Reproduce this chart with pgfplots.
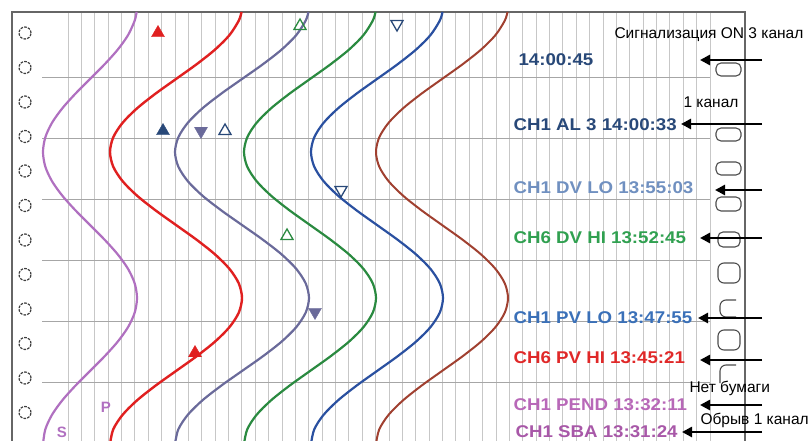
\documentclass[border=0pt]{standalone}
\usepackage{pgfplots}
\pgfplotsset{compat=1.18}
\usepackage{pgfplotstable}
\usetikzlibrary{arrows.meta}
\usepackage{fontspec}
\setmainfont{Liberation Sans}
\newfontfamily\tagfont[FakeStretch=1.1]{Liberation Sans}

\definecolor{penP}{HTML}{B070C0}
\definecolor{penR}{HTML}{E02020}
\definecolor{penS}{HTML}{6A6A9A}
\definecolor{penG}{HTML}{2A8A40}
\definecolor{penB}{HTML}{2A50A0}
\definecolor{penN}{HTML}{A04030}
\definecolor{navy}{HTML}{284878}
\definecolor{steel}{HTML}{7090C0}
\definecolor{grn}{HTML}{30A050}
\definecolor{blu}{HTML}{3A70B8}
\definecolor{rd}{HTML}{E02828}
\definecolor{pink}{HTML}{B868B8}
\definecolor{purp}{HTML}{A858A8}

% pen traces: x position of each pen at chart row y (pixels)
\pgfplotstableread{
y     p     r     s     g     b     n
12.0  136.6 241.5 308.4 375.5 442.5 507.5
20.6  134.7 238.8 305.7 372.8 439.8 504.8
35.2  128.0 229.4 296.2 363.4 430.4 495.4
49.8  117.6 214.8 281.4 348.8 415.8 480.8
64.4  104.5 196.4 262.7 330.4 397.4 462.4
79.0  90.0  176.0 242.0 310.0 377.0 442.0
93.6  75.5  155.6 221.3 289.6 356.6 421.6
108.2 62.4  137.2 202.6 271.2 338.2 403.2
122.8 52.0  122.6 187.8 256.6 323.6 388.6
137.4 45.3  113.2 178.3 247.2 314.2 379.2
152.0 43.0  110.0 175.0 244.0 311.0 376.0
166.6 45.3  113.2 178.3 247.2 314.2 379.2
181.2 52.0  122.6 187.8 256.6 323.6 388.6
195.8 62.4  137.2 202.6 271.2 338.2 403.2
210.4 75.5  155.6 221.3 289.6 356.6 421.6
225.0 90.0  176.0 242.0 310.0 377.0 442.0
239.6 104.5 196.4 262.7 330.4 397.4 462.4
254.2 117.6 214.8 281.4 348.8 415.8 480.8
268.8 128.0 229.4 296.2 363.4 430.4 495.4
283.4 134.7 238.8 305.7 372.8 439.8 504.8
298.0 137.0 242.0 309.0 376.0 443.0 508.0
312.6 134.7 238.8 305.7 372.8 439.8 504.8
327.2 128.0 229.4 296.2 363.4 430.4 495.4
341.8 117.6 214.8 281.4 348.8 415.8 480.8
356.4 104.5 196.4 262.7 330.4 397.4 462.4
371.0 90.0  176.0 242.0 310.0 377.0 442.0
385.6 75.5  155.6 221.3 289.6 356.6 421.6
400.2 62.4  137.2 202.6 271.2 338.2 403.2
414.8 52.0  122.6 187.8 256.6 323.6 388.6
429.4 45.3  113.2 178.3 247.2 314.2 379.2
444.0 43.0  110.0 175.0 244.0 311.0 376.0
}\pens

\begin{document}
\begin{tikzpicture}
\begin{axis}[
  x=1pt, y=1pt, y dir=reverse,
  xmin=0, xmax=811, ymin=0, ymax=441,
  hide axis,
  every node/.style={inner sep=0pt},
]
\path (axis cs:0,0) rectangle (axis cs:811,441);
% chart paper grid
\pgfplotsinvokeforeach{0,...,48}{
  \draw[black!22, line width=0.8pt] (axis cs:{68+13.375*#1},12) -- (axis cs:{68+13.375*#1},441);
}
\pgfplotsinvokeforeach{77,138,199,260,321,382}{
  \draw[black!35, line width=0.9pt] (axis cs:42,#1) -- (axis cs:710,#1);
}
% paper border
\draw[black!60, line width=1.4pt] (axis cs:12,441) -- (axis cs:12,12) -- (axis cs:745,12) -- (axis cs:745,441);

% sprocket holes
\addplot[only marks, mark=o, mark size=6pt,
  mark options={draw=black!75, line width=1.2pt, dash pattern=on 2.6pt off 1.2pt}]
  coordinates {(25,33) (25,67.5) (25,102) (25,136.5) (25,171) (25,205.5)
               (25,240) (25,274.5) (25,309) (25,343.5) (25,378) (25,412.5)};
\begin{scope}[black!70, line width=1.1pt]
\draw[rounded corners=5pt] (axis cs:716,63) rectangle (axis cs:741,76);
\draw[rounded corners=5pt] (axis cs:716,128) rectangle (axis cs:741,141);
\draw[rounded corners=5pt] (axis cs:716,162) rectangle (axis cs:741,175);
\draw[rounded corners=5pt] (axis cs:716,197) rectangle (axis cs:741,211);
\draw[rounded corners=5pt] (axis cs:718,232) rectangle (axis cs:740,247);
\draw[rounded corners=6pt] (axis cs:718,263) rectangle (axis cs:740,283);
\draw[rounded corners=6pt] (axis cs:736,300) -- (axis cs:720,300) -- (axis cs:720,317) -- (axis cs:736,317);
\draw[rounded corners=6pt] (axis cs:718,330) rectangle (axis cs:740,350);
\draw[rounded corners=6pt] (axis cs:736,365) -- (axis cs:720,365) -- (axis cs:720,383);
\end{scope}

% pen traces
\addplot[penP, line width=2.2pt, smooth] table[x=p, y=y] {\pens};
\addplot[penR, line width=2.4pt, smooth] table[x=r, y=y] {\pens};
\addplot[penS, line width=2.2pt, smooth] table[x=s, y=y] {\pens};
\addplot[penG, line width=2.2pt, smooth] table[x=g, y=y] {\pens};
\addplot[penB, line width=2.2pt, smooth] table[x=b, y=y] {\pens};
\addplot[penN, line width=2pt, smooth] table[x=n, y=y] {\pens};

% alarm marks
\addplot[only marks, mark=triangle*, mark size=7.5pt, mark options={fill=penR, draw=penR}]
  coordinates {(158,33) (195,353)};
\addplot[only marks, mark=triangle*, mark size=7.5pt, mark options={fill=navy, draw=navy}]
  coordinates {(163,131)};
\addplot[only marks, mark=triangle*, mark size=7.5pt, mark options={fill=penS, draw=penS, rotate=180}]
  coordinates {(201,131) (315,312)};
\addplot[only marks, mark=triangle, mark size=7pt, mark options={draw=navy, line width=1.3pt}]
  coordinates {(225,131)};
\addplot[only marks, mark=triangle, mark size=7pt, mark options={draw=penG, line width=1.3pt}]
  coordinates {(300,26) (287,236)};
\addplot[only marks, mark=triangle, mark size=7pt, mark options={draw=navy, line width=1.3pt, rotate=180}]
  coordinates {(397,24) (341,190)};

% pen letters
\node[text=penP, font=\bfseries\fontsize{15}{15}\selectfont] at (axis cs:106,407) {P};
\node[text=penP, font=\bfseries\fontsize{15}{15}\selectfont] at (axis cs:62,432) {S};

% printed messages
\begin{scope}[every node/.append style={anchor=west, font=\tagfont\bfseries\fontsize{17}{17}\selectfont}]
\node[text=navy] at (axis cs:515,60) {14:00:45};
\node[text=navy] at (axis cs:510,125) {CH1 AL 3 14:00:33};
\node[text=steel] at (axis cs:510,188) {CH1 DV LO 13:55:03};
\node[text=grn] at (axis cs:510,238) {CH6 DV HI 13:52:45};
\node[text=blu] at (axis cs:510,318) {CH1 PV LO 13:47:55};
\node[text=rd] at (axis cs:510,358) {CH6 PV HI 13:45:21};
\node[text=pink] at (axis cs:510,405) {CH1 PEND 13:32:11};
\node[text=purp] at (axis cs:512,432) {CH1 SBA 13:31:24};
\end{scope}

% callouts
\begin{scope}[every node/.append style={anchor=west, text=black, font=\fontsize{15.5}{15.5}\selectfont}]
\node at (axis cs:611,35) {Сигнализация ON 3 канал};
\node at (axis cs:680,102) {1 канал};
\node at (axis cs:686,388) {Нет бумаги};
\node at (axis cs:697,420) {Обрыв 1 канал};
\end{scope}
\begin{scope}[black, line width=2.8pt, -{Triangle[length=10pt, width=10pt]}]
\draw (axis cs:762,60) -- (axis cs:700,60);
\draw (axis cs:762,124) -- (axis cs:681,124);
\draw (axis cs:762,190) -- (axis cs:715,190);
\draw (axis cs:762,238) -- (axis cs:700,238);
\draw (axis cs:762,318) -- (axis cs:698,318);
\draw (axis cs:762,360) -- (axis cs:700,360);
\draw (axis cs:762,405) -- (axis cs:700,405);
\draw (axis cs:762,432) -- (axis cs:682,432);
\end{scope}
\end{axis}
\end{tikzpicture}
\end{document}
